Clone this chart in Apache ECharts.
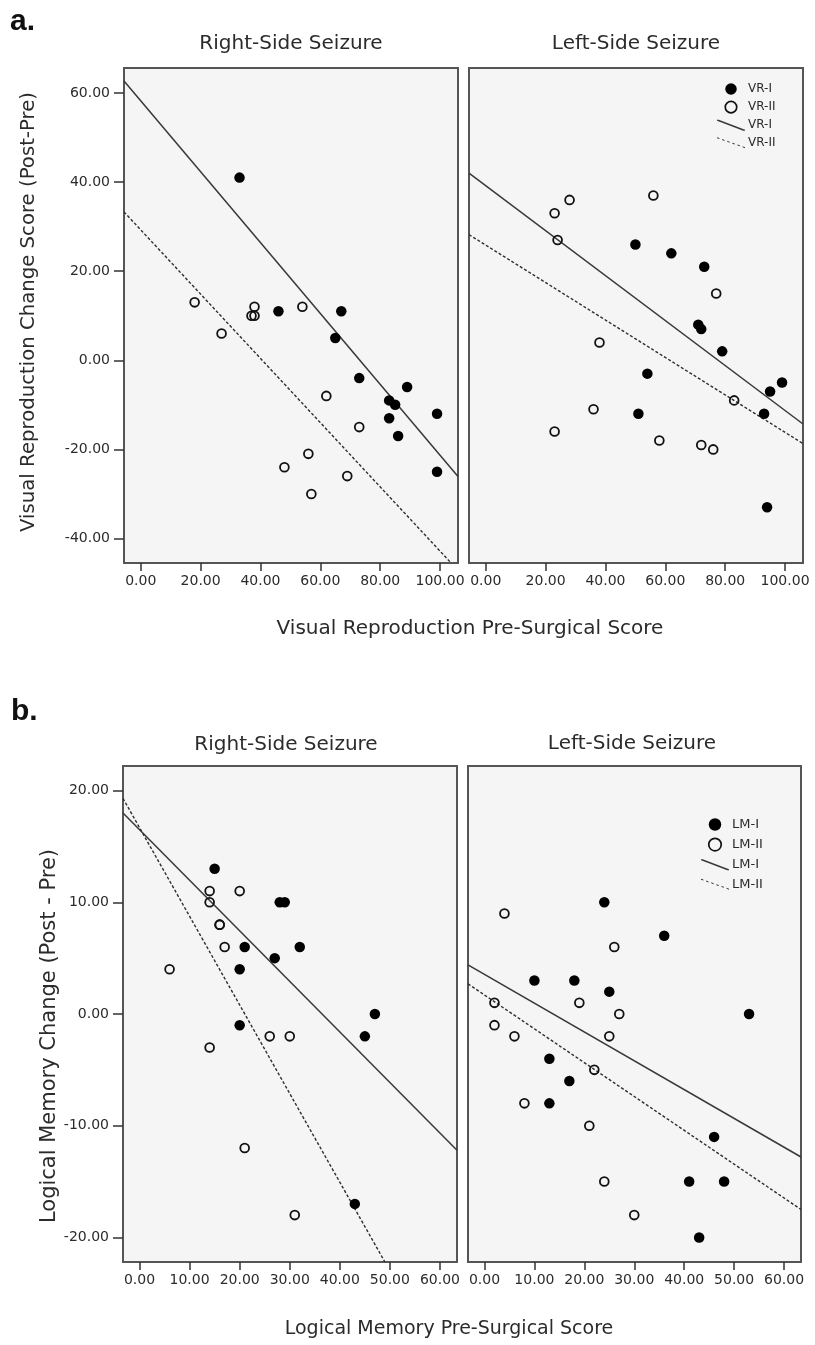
<!DOCTYPE html>
<html>
<head>
<meta charset="utf-8">
<script src="https://cdn.jsdelivr.net/npm/echarts@6/dist/echarts.min.js"></script>
<style>
html,body{margin:0;padding:0;background:#fff;}
#chart{width:815px;height:1345px;}
</style>
</head>
<body>
<div id="chart"></div>
<script>
// ---------- DATA ----------
// Panel a: Visual Reproduction
const xTicksVR = [0, 20, 40, 60, 80, 100];
const yTicksVR = [-40, -20, 0, 20, 40, 60];
const xRangeVR = [-5.6, 106];
const yRangeVR = [-45.5, 65.6];

const vrRightI  = [[33,41],[46,11],[67,11],[65,5],[73,-4],[83,-9],[85,-10],[89,-6],[83,-13],[86,-17],[99,-12],[99,-25]];
const vrRightII = [[18,13],[38,12],[37,10],[38,10],[54,12],[27,6],[62,-8],[73,-15],[56,-21],[48,-24],[69,-26],[57,-30]];
const vrRightFitI  = [[-5.6,62.7],[106,-26.1]];
const vrRightFitII = [[-5.6,33.3],[103.7,-45.5]];

const vrLeftI  = [[50,26],[62,24],[73,21],[71,8],[72,7],[79,2],[54,-3],[99,-5],[95,-7],[93,-12],[51,-12],[94,-33]];
const vrLeftII = [[23,33],[28,36],[24,27],[56,37],[77,15],[38,4],[83,-9],[36,-11],[23,-16],[58,-18],[72,-19],[76,-20]];
const vrLeftFitI  = [[-5.6,42.0],[106,-14.3]];
const vrLeftFitII = [[-5.6,28.2],[106,-18.7]];

// Panel b: Logical Memory
const xTicksLM = [0, 10, 20, 30, 40, 50, 60];
const yTicksLM = [-20, -10, 0, 10, 20];
const xRangeLM = [-3.3, 63.4];
const yRangeLM = [-22.2, 22.2];

const lmRightI  = [[15,13],[28,10],[29,10],[21,6],[32,6],[27,5],[20,4],[47,0],[45,-2],[20,-1],[43,-17]];
const lmRightII = [[14,11],[20,11],[14,10],[16,8],[16,8],[17,6],[6,4],[26,-2],[30,-2],[14,-3],[21,-12],[31,-18]];
const lmRightFitI  = [[-3.3,18.0],[63.4,-12.2]];
const lmRightFitII = [[-3.3,19.3],[49,-22.2]];

const lmLeftI  = [[24,10],[36,7],[10,3],[18,3],[25,2],[53,0],[13,-4],[17,-6],[13,-8],[46,-11],[41,-15],[48,-15],[43,-20]];
const lmLeftII = [[4,9],[26,6],[19,1],[2,1],[27,0],[2,-1],[6,-2],[25,-2],[22,-5],[8,-8],[21,-10],[24,-15],[30,-18]];
const lmLeftFitI  = [[-3.3,4.4],[63.4,-12.8]];
const lmLeftFitII = [[-3.3,2.7],[63.4,-17.5]];

// ---------- STYLE ----------
const FONT = 'DejaVu Sans';
const TXT = '#2b2b2b';
const LINEC = '#383838';

function solidIcon() {
  return 'path://M0,0L1.8,0L28,10L28,11L26.2,11L0,1Z';
}
function dashIcon() {
  let p = '';
  const len = 2.4, step = 5.12;
  for (let i = 0; i < 6; i++) {
    const x0 = i * step, x1 = x0 + len;
    const y0 = x0 * 10 / 28, y1 = x1 * 10 / 28;
    p += 'M' + x0.toFixed(2) + ',' + y0.toFixed(2) + 'L' + x1.toFixed(2) + ',' + y1.toFixed(2) +
         'L' + x1.toFixed(2) + ',' + (y1 + 1).toFixed(2) + 'L' + x0.toFixed(2) + ',' + (y0 + 1).toFixed(2) + 'Z';
  }
  return 'path://' + p;
}

function fmt(v) { return v.toFixed(2); }

function xAxisDef(grid, range, ticks, showLabels) {
  return {
    type: 'value', gridIndex: grid, min: range[0], max: range[1],
    axisLine: { show: false, onZero: false },
    axisTick: { show: true, customValues: ticks, length: 8, lineStyle: { color: '#333', width: 1.5 } },
    axisLabel: { show: showLabels, customValues: ticks, formatter: fmt, fontFamily: FONT, fontSize: 14, color: TXT, margin: 11 },
    splitLine: { show: false }
  };
}
function yAxisDef(grid, range, ticks, showAxis, name, nameGap, namePad, nameSize) {
  return {
    type: 'value', gridIndex: grid, min: range[0], max: range[1], show: showAxis,
    name: name || '', nameLocation: 'middle', nameGap: nameGap || 0,
    nameTextStyle: { fontFamily: FONT, fontSize: nameSize || 19, color: TXT, padding: namePad || 0 },
    axisLine: { show: false, onZero: false },
    axisTick: { show: true, customValues: ticks, length: 10, lineStyle: { color: '#333', width: 1.5 } },
    axisLabel: { show: true, customValues: ticks, formatter: fmt, fontFamily: FONT, fontSize: 14, color: TXT, margin: 14 },
    splitLine: { show: false }
  };
}

function scat(name, data, idx, filled) {
  return {
    type: 'scatter', name: name, data: data, xAxisIndex: idx, yAxisIndex: idx,
    symbol: 'circle', symbolSize: filled ? 10.5 : 8.8, z: 3,
    itemStyle: filled ? { color: '#000', opacity: 1 } : { color: 'rgba(0,0,0,0)', borderColor: '#111', borderWidth: 1.8, opacity: 1 }
  };
}
function fit(name, data, idx, dashed) {
  return {
    type: 'line', name: name, data: data, xAxisIndex: idx, yAxisIndex: idx,
    showSymbol: false, symbol: 'none', silent: true, z: 2,
    lineStyle: { color: dashed ? '#2e2e2e' : LINEC, width: dashed ? 1.4 : 1.5, type: dashed ? [3, 2] : 'solid' }
  };
}

function gridDef(l, t, w, h) {
  return { left: l, top: t, width: w, height: h, show: true, backgroundColor: '#f5f5f5',
           borderColor: '#555', borderWidth: 2, containLabel: false, outerBoundsMode: 'none' };
}

function legendDef(names, left, top, iw, ih, gap, fs) {
  return {
    orient: 'vertical', left: left, top: top, padding: 0,
    itemWidth: iw, itemHeight: ih, itemGap: gap,
    selectedMode: false,
    textStyle: { fontFamily: FONT, fontSize: fs, color: TXT, padding: [0, 0, 0, -2] },
    formatter: function (n) { return n.replace(' fit', ''); },
    data: [
      { name: names[0], icon: 'circle', itemStyle: { color: '#000', borderWidth: 0, opacity: 1 } },
      { name: names[1], icon: 'circle', itemStyle: { color: 'rgba(0,0,0,0)', borderColor: '#111', borderWidth: 1.7, opacity: 1 } },
      { name: names[2], icon: solidIcon(), itemStyle: { color: LINEC, borderWidth: 0 } },
      { name: names[3], icon: dashIcon(), itemStyle: { color: LINEC, borderWidth: 0 } }
    ]
  };
}

function ttl(text, x, y, size, bold, family) {
  return {
    text: text, left: x, top: y, padding: 0, textAlign: bold ? 'left' : 'center',
    textStyle: { fontFamily: family || FONT, fontSize: size, fontWeight: bold ? 'bold' : 'normal', color: bold ? '#111' : TXT }
  };
}

const option = {
  animation: false,
  backgroundColor: '#ffffff',
  title: [
    ttl('a.', 10, 7, 30, true, 'Liberation Sans'),
    ttl('Right-Side Seizure', 291, 34, 20),
    ttl('Left-Side Seizure', 636, 34, 20),
    ttl('Visual Reproduction Pre-Surgical Score', 470, 619, 20),
    ttl('b.', 11, 697, 30, true, 'Liberation Sans'),
    ttl('Right-Side Seizure', 286, 735, 20),
    ttl('Left-Side Seizure', 632, 734, 20),
    ttl('Logical Memory Pre-Surgical Score', 449, 1320, 19)
  ],
  grid: [
    gridDef(124, 68, 334, 495),
    gridDef(469, 68, 334, 495),
    gridDef(123, 766, 334, 496),
    gridDef(468, 766, 333, 496)
  ],
  xAxis: [
    xAxisDef(0, xRangeVR, xTicksVR, true),
    xAxisDef(1, xRangeVR, xTicksVR, true),
    xAxisDef(2, xRangeLM, xTicksLM, true),
    xAxisDef(3, xRangeLM, xTicksLM, true)
  ],
  yAxis: [
    yAxisDef(0, yRangeVR, yTicksVR, true, 'Visual Reproduction Change Score (Post-Pre)', 85, [0, 0, 0, 7], 19.7),
    yAxisDef(1, yRangeVR, yTicksVR, false),
    yAxisDef(2, yRangeLM, yTicksLM, true, 'Logical Memory Change (Post - Pre)', 63, [0, 44, 0, 0], 21),
    yAxisDef(3, yRangeLM, yTicksLM, false)
  ],
  legend: [
    legendDef(['VR-I', 'VR-II', 'VR-I fit', 'VR-II fit'], 717, 83, 28, 11.5, 5.5, 12),
    legendDef(['LM-I', 'LM-II', 'LM-I fit', 'LM-II fit'], 701, 818, 28, 12.5, 6.5, 13)
  ],
  series: [
    fit('VR-I fit', vrRightFitI, 0, false),
    fit('VR-II fit', vrRightFitII, 0, true),
    scat('VR-I', vrRightI, 0, true),
    scat('VR-II', vrRightII, 0, false),
    fit('VR-I fit', vrLeftFitI, 1, false),
    fit('VR-II fit', vrLeftFitII, 1, true),
    scat('VR-I', vrLeftI, 1, true),
    scat('VR-II', vrLeftII, 1, false),
    fit('LM-I fit', lmRightFitI, 2, false),
    fit('LM-II fit', lmRightFitII, 2, true),
    scat('LM-I', lmRightI, 2, true),
    scat('LM-II', lmRightII, 2, false),
    fit('LM-I fit', lmLeftFitI, 3, false),
    fit('LM-II fit', lmLeftFitII, 3, true),
    scat('LM-I', lmLeftI, 3, true),
    scat('LM-II', lmLeftII, 3, false)
  ]
};

const chart = echarts.init(document.getElementById('chart'), null, { renderer: 'canvas' });
chart.setOption(option);
</script>
</body>
</html>
